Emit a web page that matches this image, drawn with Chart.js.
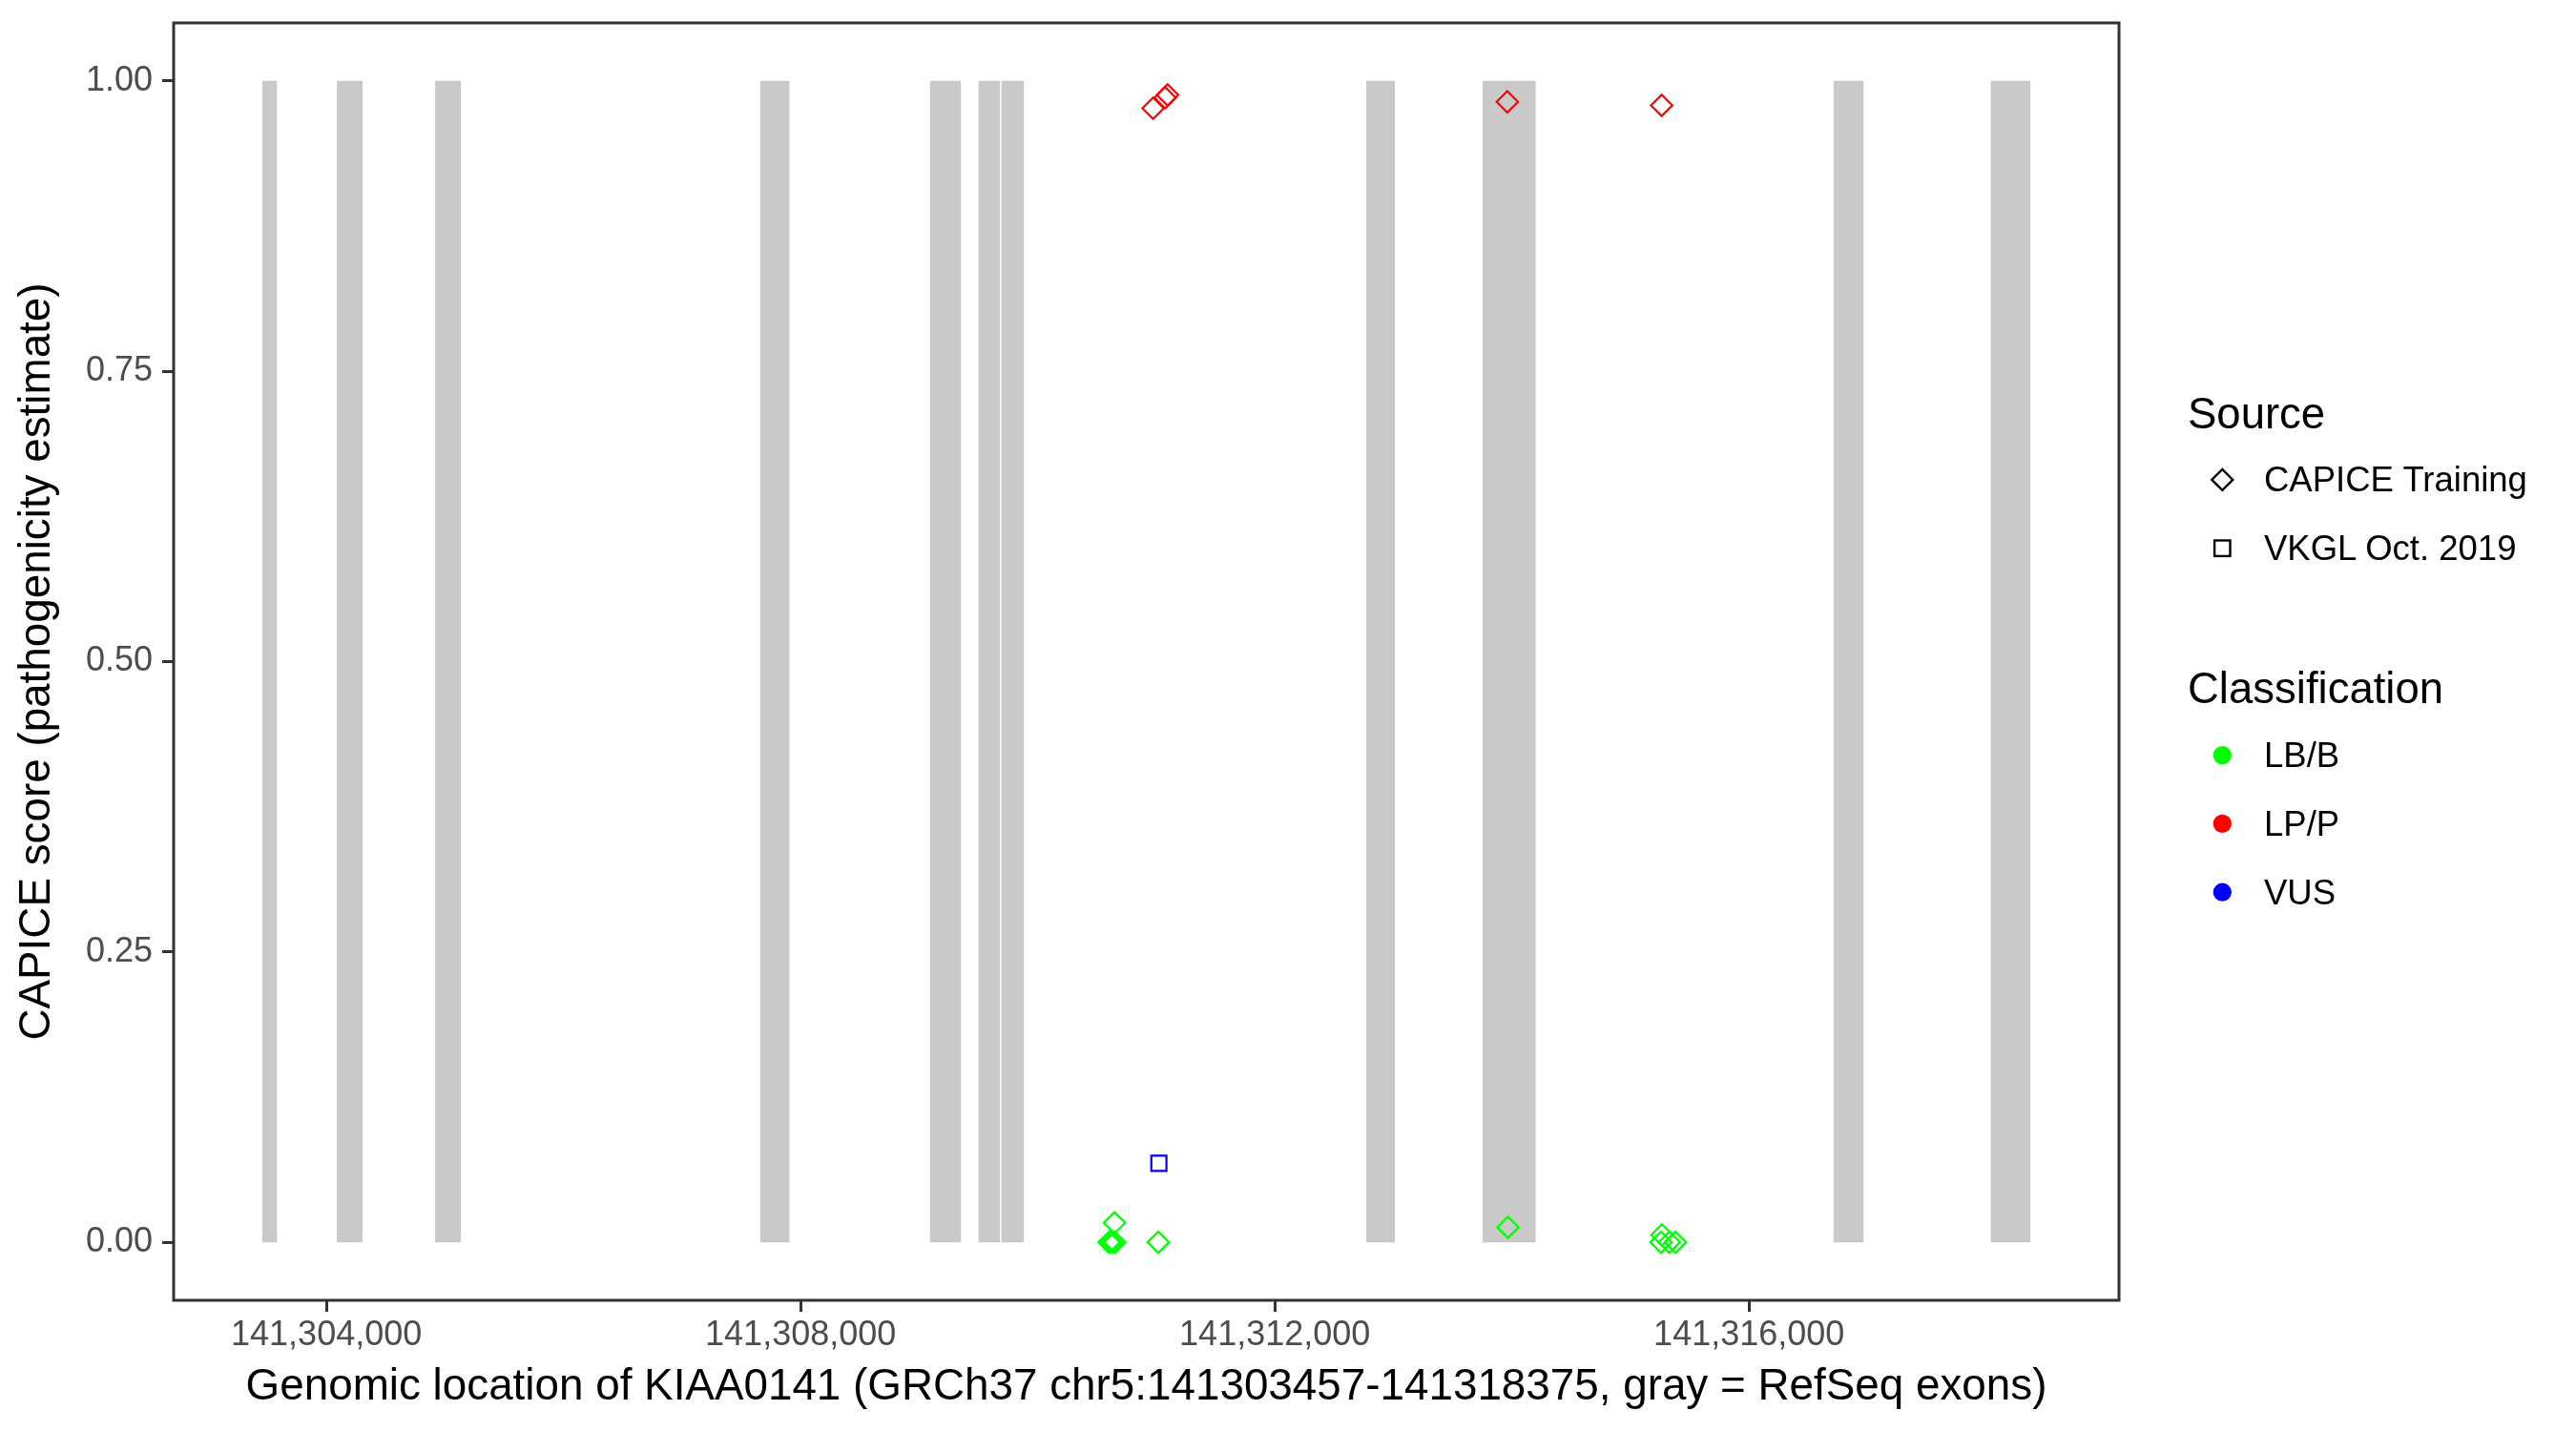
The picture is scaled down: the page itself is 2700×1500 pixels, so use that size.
<!DOCTYPE html>
<html>
<head>
<meta charset="utf-8">
<script src="https://cdn.jsdelivr.net/npm/chart.js@4.4.0/dist/chart.umd.min.js"></script>
<style>
html, body { margin: 0; padding: 0; background: #ffffff; }
#wrap { position: relative; width: 2700px; height: 1500px; font-family: 'Liberation Sans', Arial, Helvetica, sans-serif; }
#c { position: absolute; left: 0; top: 0; }
.lg { position: absolute; line-height: 1; white-space: nowrap; color: #000000; }
.lt { font-size: 45.5px; }
.li { font-size: 36.5px; }
#sym { position: absolute; left: 0; top: 0; pointer-events: none; }
</style>
</head>
<body>
<div id="wrap">
  <canvas id="c" width="2700" height="1500"></canvas>
  <svg id="sym" width="2700" height="1500" xmlns="http://www.w3.org/2000/svg"></svg>
</div>
<script>
// ---------------- data ----------------
const geneStart = 141303457;
const geneEnd = 141318375;

// RefSeq exons (gray)
const exonStarts = [141303457, 141304087, 141304917, 141307658, 141309089, 141309499, 141309692, 141312771, 141313752, 141316711, 141318038];
const exonEnds   = [141303585, 141304307, 141305134, 141307907, 141309354, 141309684, 141309885, 141313014, 141314202, 141316968, 141318375];

// CAPICE Training, LB/B (green diamonds)
const capiceBenignPos   = [141310647, 141310602, 141310626, 141310650, 141311017, 141313967, 141315265, 141315258, 141315328, 141315379];
const capiceBenignScore = [0.0167, 0.0, 0.0, 0.0, 0.0, 0.0129, 0.0063, 0.0, 0.0, 0.0];

// CAPICE Training, LP/P (red diamonds)
const capicePathoPos   = [141310973, 141311075, 141311095, 141313961, 141315263];
const capicePathoScore = [0.9765, 0.9855, 0.988, 0.982, 0.979];

// VKGL Oct. 2019, VUS (blue square)
const vkglVusPos   = [141311022];
const vkglVusScore = [0.068];

// ticks
const xTickValues = [141304000, 141308000, 141312000, 141316000];
const xTickLabels = ['141,304,000', '141,308,000', '141,312,000', '141,316,000'];
const yTickValues = [0, 0.25, 0.5, 0.75, 1];
const yTickLabels = ['0.00', '0.25', '0.50', '0.75', '1.00'];

// legends
const sourceTitle = 'Source';
const sourceLabels = ['CAPICE Training', 'VKGL Oct. 2019'];
const sourceShapes = ['diamond', 'square'];
const classTitle = 'Classification';
const classLabels = ['LB/B', 'LP/P', 'VUS'];
const classColors = ['#00FF00', '#FF0000', '#0000FF'];

const xTitle = 'Genomic location of KIAA0141 (GRCh37 chr5:141303457-141318375, gray = RefSeq exons)';
const yTitle = 'CAPICE score (pathogenicity estimate)';

// ---------------- chart ----------------
const FONT = "'Liberation Sans', Arial, Helvetica, sans-serif";
Chart.defaults.font.family = FONT;

const xSpan = geneEnd - geneStart;
const xMin = geneStart - 0.05 * xSpan;
const xMax = geneEnd + 0.05 * xSpan;

const toPts = (xs, ys) => xs.map((x, i) => ({ x: x, y: ys[i] }));

const exonDatasets = exonStarts.map((s, i) => ({
  type: 'line',
  data: [{ x: s, y: 1 }, { x: exonEnds[i], y: 1 }],
  showLine: true,
  borderWidth: 0,
  borderColor: 'rgba(0,0,0,0)',
  backgroundColor: '#C9C9C9',
  fill: { value: 0 },
  pointRadius: 0,
  pointHoverRadius: 0,
  order: 10
}));

function pointSet(xs, ys, color, style) {
  return {
    type: 'scatter',
    data: toPts(xs, ys),
    pointStyle: style,
    pointRadius: 11.2,
    pointHoverRadius: 11.2,
    borderWidth: 2.2,
    pointBorderWidth: 2.2,
    borderColor: color,
    pointBorderColor: color,
    backgroundColor: 'rgba(0,0,0,0)',
    pointBackgroundColor: 'rgba(0,0,0,0)',
    order: 1
  };
}

const pointDatasets = [
  pointSet(capiceBenignPos, capiceBenignScore, classColors[0], 'rectRot'),
  pointSet(capicePathoPos, capicePathoScore, classColors[1], 'rectRot'),
  pointSet(vkglVusPos, vkglVusScore, classColors[2], 'rect')
];

const panelBorder = {
  id: 'panelBorder',
  afterDatasetsDraw(chart) {
    const { ctx, chartArea: a } = chart;
    ctx.save();
    ctx.strokeStyle = '#333333';
    ctx.lineWidth = 3;
    ctx.strokeRect(a.left, a.top, a.right - a.left, a.bottom - a.top);
    ctx.restore();
  }
};

const gridOpts = {
  display: true,
  drawOnChartArea: false,
  drawTicks: true,
  tickLength: 12,
  tickWidth: 3,
  tickColor: '#333333'
};

function noPad(s) { s.paddingTop = 0; s.paddingBottom = 0; s.paddingLeft = 0; s.paddingRight = 0; }

new Chart(document.getElementById('c'), {
  type: 'scatter',
  data: { datasets: pointDatasets.concat(exonDatasets) },
  options: {
    responsive: false,
    animation: false,
    events: [],
    devicePixelRatio: 1,
    layout: { autoPadding: false, padding: { top: 24, right: 479, bottom: 0, left: 0 } },
    plugins: { legend: { display: false }, tooltip: { enabled: false }, title: { display: false } },
    scales: {
      x: {
        type: 'linear',
        position: 'bottom',
        min: xMin,
        max: xMax,
        afterBuildTicks: s => { s.ticks = xTickValues.map(v => ({ value: v })); },
        afterFit: s => { s.height = 137; noPad(s); },
        ticks: {
          callback: (v, i) => xTickLabels[i],
          color: '#4D4D4D',
          font: { size: 36 },
          padding: 3,
          maxRotation: 0,
          minRotation: 0,
          autoSkip: false
        },
        grid: gridOpts,
        border: { display: false },
        title: { display: true, text: xTitle, color: '#000000', font: { size: 45.8 }, padding: { top: 0, bottom: 18 } }
      },
      y: {
        type: 'linear',
        position: 'left',
        min: -0.05,
        max: 1.05,
        afterBuildTicks: s => { s.ticks = yTickValues.map(v => ({ value: v })); },
        afterFit: s => { s.width = 182; noPad(s); },
        ticks: {
          callback: (v, i) => yTickLabels[i],
          color: '#4D4D4D',
          font: { size: 36 },
          padding: 10,
          autoSkip: false
        },
        grid: gridOpts,
        border: { display: false },
        title: { display: true, text: yTitle, color: '#000000', font: { size: 45.8 }, padding: { top: 12, bottom: 0 } }
      }
    }
  },
  plugins: [panelBorder]
});

// ---------------- legend (HTML text + SVG keys) ----------------
const wrap = document.getElementById('wrap');
const svg = document.getElementById('sym');
const NS = 'http://www.w3.org/2000/svg';
function addText(txt, cls, left, baseline, size) {
  const d = document.createElement('div');
  d.className = 'lg ' + cls;
  d.textContent = txt;
  d.style.left = left + 'px';
  d.style.top = (baseline - 0.8465 * size) + 'px';
  wrap.appendChild(d);
}
function addShape(tag, attrs) {
  const el = document.createElementNS(NS, tag);
  for (const k in attrs) el.setAttribute(k, attrs[k]);
  svg.appendChild(el);
}
const keyX = 2329.3, textX = 2373, titleX = 2293, step = 71.8;

addText(sourceTitle, 'lt', titleX, 449.7, 45.5);
sourceLabels.forEach((lab, i) => {
  const base = 515.9 + i * step;
  const cy = 502.9 + i * step;
  addText(lab, 'li', textX, base, 36.5);
  if (sourceShapes[i] === 'diamond') {
    const r = 11;
    addShape('path', { d: `M ${keyX - r} ${cy} L ${keyX} ${cy - r} L ${keyX + r} ${cy} L ${keyX} ${cy + r} Z`, fill: 'none', stroke: '#000000', 'stroke-width': 2.4 });
  } else {
    const h = 8.2;
    addShape('rect', { x: keyX - h, y: cy - h, width: 2 * h, height: 2 * h, fill: 'none', stroke: '#000000', 'stroke-width': 2.4 });
  }
});

addText(classTitle, 'lt', titleX, 737.8, 45.5);
classLabels.forEach((lab, i) => {
  const base = 804.8 + i * step;
  const cy = 791.6 + i * step;
  addText(lab, 'li', textX, base, 36.5);
  addShape('circle', { cx: keyX, cy: cy, r: 9.6, fill: classColors[i] });
});
</script>
</body>
</html>
